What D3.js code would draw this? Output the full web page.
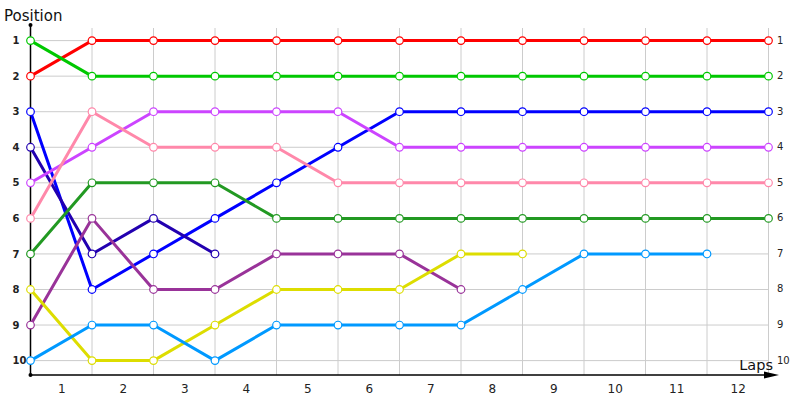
<!DOCTYPE html>
<html><head><meta charset="utf-8">
<script src="https://cdn.jsdelivr.net/npm/d3@7"></script>
<style>body{margin:0;background:#fff}svg{display:block;font-family:Tahoma,"DejaVu Sans",sans-serif}</style>
</head><body>
<svg id="c" width="800" height="400"></svg>
<script>
const laps = [0,1,2,3,4,5,6,7,8,9,10,11,12];
const lapLabels = ["1","2","3","4","5","6","7","8","9","10","11","12"];
const positions = [1,2,3,4,5,6,7,8,9,10];
const seriesNames = ["red","green","blue","navy","violet","pink","darkgreen","purple","yellow","skyblue"];
const seriesColors = ["#ff0000","#00c800","#0000ff","#2200b0","#cc44ff","#ff88aa","#229922","#993399","#dddd00","#0099ff"];
const redPos      = [2,1,1,1,1,1,1,1,1,1,1,1,1];
const greenPos    = [1,2,2,2,2,2,2,2,2,2,2,2,2];
const bluePos     = [3,8,7,6,5,4,3,3,3,3,3,3,3];
const navyPos     = [4,7,6,7];
const violetPos   = [5,4,3,3,3,3,4,4,4,4,4,4,4];
const pinkPos     = [6,3,4,4,4,5,5,5,5,5,5,5,5];
const dkgreenPos  = [7,5,5,5,6,6,6,6,6,6,6,6,6];
const purplePos   = [9,6,8,8,7,7,7,8];
const yellowPos   = [8,10,10,9,8,8,8,7,7];
const skybluePos  = [10,9,9,10,9,9,9,9,8,7,7,7];
const seriesData = [redPos,greenPos,bluePos,navyPos,violetPos,pinkPos,dkgreenPos,purplePos,yellowPos,skybluePos];

const svg = d3.select("#c");
const x = d3.scaleLinear().domain([0,12]).range([30.5,768.5]);
const y = d3.scaleLinear().domain([1,10]).range([40.6,360.6]);
const axisY = 375, topY = 25;

// grid
const g = svg.append("g");
g.selectAll("line.h").data(positions).enter().append("line")
  .attr("x1",x(0)).attr("x2",x(12)).attr("y1",d=>y(d)).attr("y2",d=>y(d))
  .attr("stroke","#cccccc").attr("stroke-width",1);
g.selectAll("line.v").data(laps.slice(1)).enter().append("line")
  .attr("x1",d=>x(d)).attr("x2",d=>x(d)).attr("y1",28).attr("y2",axisY)
  .attr("stroke","#cccccc").attr("stroke-width",1);

// axes lines
svg.append("line").attr("x1",x(0)).attr("x2",x(0)).attr("y1",topY).attr("y2",axisY).attr("stroke","#000").attr("stroke-width",1.5);
svg.append("line").attr("x1",x(0)).attr("x2",772).attr("y1",axisY).attr("y2",axisY).attr("stroke","#000").attr("stroke-width",1.5);
svg.append("path").attr("d",`M764,${axisY-3.5}L779,${axisY}L764,${axisY+3.5}Z`).attr("fill","#000");
svg.append("circle").attr("cx",x(0)).attr("cy",topY).attr("r",2).attr("fill","#000");
svg.append("circle").attr("cx",x(0)).attr("cy",axisY).attr("r",2).attr("fill","#000");

// left y labels
const gl = svg.append("g").attr("transform","translate(12.5,0)");
positions.forEach(p=>{
  gl.append("text").attr("x",0).attr("y",y(p)).attr("dy","0.36em")
    .attr("font-size",10).attr("font-weight","bold").attr("fill","#222").text(p);
});
// right y labels
positions.forEach(p=>{
  svg.append("text").attr("x",777).attr("y",y(p)).attr("dy","0.3em")
    .attr("font-size",10).attr("fill","#222").text(p);
});
// x labels (between laps)
const xa = d3.axisBottom(x).tickValues(lapLabels.map((d,i)=>i+0.5)).tickSize(0)
  .tickFormat((d,i)=>lapLabels[i]);
const gx = svg.append("g").attr("transform",`translate(0,${axisY})`).call(xa);
gx.select(".domain").remove();
gx.selectAll("text").attr("font-size",12).attr("font-family","Tahoma,'DejaVu Sans',sans-serif").attr("fill","#222").attr("dy","1.25em");

// titles
svg.append("text").attr("x",4).attr("y",21).attr("font-size",15).attr("fill","#111").text("Position");
svg.append("text").attr("x",773).attr("y",370).attr("text-anchor","end").attr("font-size",14.5).attr("fill","#111").text("Laps");

// series
const line = d3.line().x((d,i)=>x(i)).y(d=>y(d));
seriesData.forEach((vals,k)=>{
  const sg = svg.append("g").attr("class","series-"+seriesNames[k]);
  sg.append("path").attr("d",line(vals)).attr("fill","none")
    .attr("stroke",seriesColors[k]).attr("stroke-width",3).attr("stroke-linejoin","round");
});
seriesData.forEach((vals,k)=>{
  svg.append("g").selectAll("circle").data(vals).enter().append("circle")
    .attr("cx",(d,i)=>x(i)).attr("cy",d=>y(d)).attr("r",3.8)
    .attr("fill","#fff").attr("stroke",seriesColors[k]).attr("stroke-width",1.2);
});
</script>
</body></html>
